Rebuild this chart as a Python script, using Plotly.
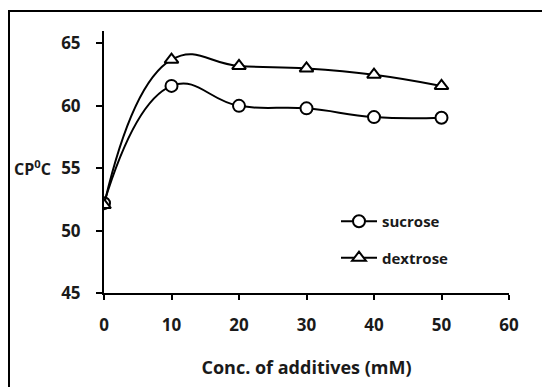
import plotly.graph_objects as go

conc = [0, 10, 20, 30, 40, 50]
sucrose = [52.2, 61.6, 60.0, 59.8, 59.1, 59.05]
dextrose = [52.05, 63.7, 63.2, 63.0, 62.5, 61.6]
x_ticks = [0, 10, 20, 30, 40, 50, 60]
y_ticks = [45, 50, 55, 60, 65]

FONT = "Open Sans"
W, H = 542, 387
ML, MR, MT, MB = 104, 33, 31, 94
PW, PH = W - ML - MR, H - MT - MB

def px_x(p):
    return (p - ML) / PW

def px_y(p):
    return (H - MB - p) / PH

fig = go.Figure()
fig.add_trace(go.Scatter(
    x=conc, y=sucrose, name="sucrose", mode="lines+markers",
    line=dict(color="black", width=2, shape="spline", smoothing=1.3),
    marker=dict(symbol="circle", size=12, color="white", line=dict(color="black", width=2)),
    legendgroup="a",
))
fig.add_trace(go.Scatter(
    x=conc, y=dextrose, name="dextrose", mode="lines+markers",
    line=dict(color="black", width=2, shape="spline", smoothing=1.3),
    marker=dict(symbol="triangle-up", size=12, color="white", line=dict(color="black", width=2)),
    legendgroup="b",
))

axis_common = dict(
    showline=True, linecolor="black", linewidth=2,
    ticks="outside", tickcolor="black", tickwidth=2,
    showgrid=False, zeroline=False,
    tickfont=dict(family=FONT, size=17, color="#1a1a1a", weight="bold"),
)

fig.update_xaxes(
    range=[0, 60], tickvals=x_ticks, ticklen=5, ticklabelstandoff=11,
    title=dict(text="<b>Conc. of additives (mM)</b>", font=dict(family=FONT, size=18, color="#1a1a1a"), standoff=26),
    automargin=True,
    **axis_common,
)
fig.update_yaxes(
    range=[45, 66], tickvals=y_ticks, ticklen=6, ticklabelstandoff=12,
    automargin=False,
    **axis_common,
)

fig.add_annotation(
    text="<b>CP<sup>0</sup>C</b>", xref="paper", yref="y", x=px_x(12), y=55,
    xanchor="left", yanchor="middle", showarrow=False,
    font=dict(family=FONT, size=16, color="#1a1a1a"),
)

fig.add_shape(
    type="rect", xref="paper", yref="paper",
    x0=px_x(9), x1=px_x(W + 5), y0=px_y(H + 5), y1=px_y(11),
    line=dict(color="black", width=2), fillcolor="rgba(0,0,0,0)", layer="above",
)

fig.update_layout(
    width=W, height=H,
    margin=dict(l=ML, r=MR, t=MT, b=MB),
    paper_bgcolor="white", plot_bgcolor="white",
    showlegend=True,
    legend=dict(
        x=px_x(336), y=px_y(205), xanchor="left", yanchor="top",
        font=dict(family=FONT, size=15, color="#1a1a1a", weight="bold"),
        bgcolor="rgba(0,0,0,0)", tracegroupgap=14, itemwidth=36,
    ),
)

fig.write_html("out.html", config={"displayModeBar": False},
               post_script="document.body.style.margin='0';")
